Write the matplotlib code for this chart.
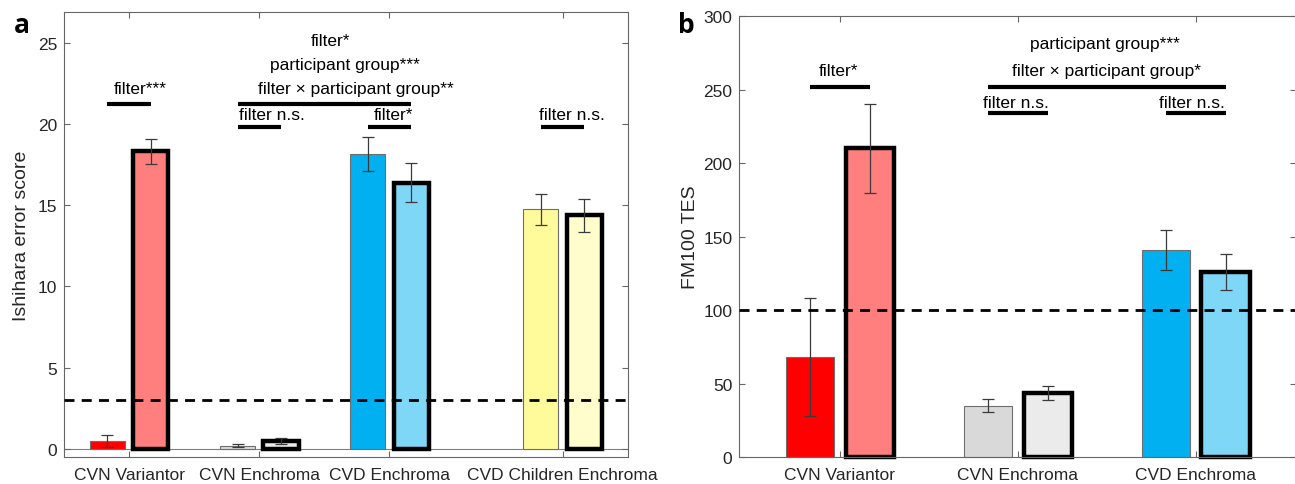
import matplotlib
matplotlib.use("Agg")
import matplotlib.pyplot as plt

plt.rcParams['font.family'] = ['Liberation Sans', 'DejaVu Sans']

# panel a: Ishihara error score
groups_a = ['CVN Variantor', 'CVN Enchroma', 'CVD Enchroma', 'CVD Children Enchroma']
ishihara_nofilter = [0.48, 0.2, 18.13, 14.73]
ishihara_filter = [18.32, 0.47, 16.36, 14.37]
ishihara_nofilter_err = [0.35, 0.1, 1.06, 0.97]
ishihara_filter_err = [0.77, 0.2, 1.2, 1.03]

# panel b: FM100 total error score
groups_b = ['CVN Variantor', 'CVN Enchroma', 'CVD Enchroma']
fm_nofilter = [68, 35, 141]
fm_filter = [210, 43.5, 126]
fm_nofilter_err = [40, 4.7, 13.7]
fm_filter_err = [30.2, 4.6, 12.2]

colors_nofilter = ['#FF0000', '#D9D9D9', '#00B0F0', '#FFFA9A']
colors_filter = ['#FF7F7F', '#EBEBEB', '#7FD7F7', '#FFFDCC']

# group centres (the 4th group in panel a sits a bit further out)
pos_a = [1, 2, 3, 4.33]
pos_b = [1, 2, 3]
off = 1 / 6
width = 0.27
FS = 12.5
TXT = '#262626'


def draw_bars(ax, pos, v0, e0, v1, e1):
    for i, x in enumerate(pos):
        ax.bar(x - off, v0[i], width, color=colors_nofilter[i], edgecolor='#6e6e6e',
               linewidth=0.8, zorder=2, clip_on=False)
        ax.bar(x + off, v1[i], width, color=colors_filter[i], edgecolor='black',
               linewidth=3.2, zorder=2, clip_on=False)
        ax.errorbar([x - off, x + off], [v0[i], v1[i]], yerr=[e0[i], e1[i]], fmt='none',
                    ecolor='#3a3a3a', elinewidth=0.9, capsize=4, capthick=0.9, zorder=3)


def style_axes(ax, pos, labels):
    ax.set_xticks(pos)
    ax.set_xticklabels(labels)
    ax.tick_params(axis='both', direction='in', length=4, width=0.8, color='#666666',
                   labelsize=FS, labelcolor=TXT, top=True, right=True)
    ax.tick_params(axis='x', pad=7)
    ax.tick_params(axis='y', pad=5)
    for s in ax.spines.values():
        s.set_color('#666666')
        s.set_linewidth(0.8)


def sig(ax, x0, x1, y):
    ax.plot([x0, x1], [y, y], color='black', linewidth=3, solid_capstyle='butt', zorder=4)


fig = plt.figure(figsize=(12.95, 4.85), dpi=100)

# ---- panel a
ax = fig.add_axes([0.0494, 0.0557, 0.4353, 0.9181])
ax.axhline(0, color='#808080', linewidth=0.8, zorder=1)
draw_bars(ax, pos_a, ishihara_nofilter, ishihara_nofilter_err, ishihara_filter, ishihara_filter_err)
ax.axhline(3, color='black', linewidth=2, dashes=(3.6, 2.6), zorder=4)
ax.set_xlim(0.5, 4.83)
ax.set_ylim(-0.5, 26.9)
ax.set_yticks([0, 5, 10, 15, 20, 25])
style_axes(ax, pos_a, groups_a)
ax.set_ylabel('Ishihara error score', fontsize=14, color=TXT)
ax.yaxis.set_label_coords(-0.061, 0.5)

sig(ax, 1 - off, 1 + off, 21.24)
sig(ax, 2 - off, 3 + off, 21.24)
sig(ax, 2 - off, 2 + off, 19.82)
sig(ax, 3 - off, 3 + off, 19.82)
sig(ax, 4.33 - off, 4.33 + off, 19.82)
for t, x, y in [('filter***', 1.087, 22.2),
                ('filter*', 2.549, 25.1),
                ('participant group***', 2.655, 23.64),
                ('filter \u00d7 participant group**', 2.742, 22.15),
                ('filter n.s.', 2.10, 20.57),
                ('filter*', 3.032, 20.57),
                ('filter n.s.', 4.402, 20.57)]:
    ax.text(x, y, t, ha='center', va='center', fontsize=FS, color='black')

fig.text(14 / 1295, 1 - 33.3 / 485, 'a', fontsize=19, fontweight='bold',
         family=['Open Sans', 'DejaVu Sans'], va='baseline')

# ---- panel b
bx = fig.add_axes([0.5709, 0.0557, 0.4302, 0.9087])
draw_bars(bx, pos_b, fm_nofilter, fm_nofilter_err, fm_filter, fm_filter_err)
bx.axhline(100, color='black', linewidth=2, dashes=(3.6, 2.6), zorder=4)
bx.set_xlim(0.435, 3.565)
bx.set_ylim(0, 300)
bx.set_yticks([0, 50, 100, 150, 200, 250, 300])
style_axes(bx, pos_b, groups_b)
bx.set_ylabel('FM100 TES', fontsize=14, color=TXT)
bx.yaxis.set_label_coords(-0.072, 0.5)

sig(bx, 1 - off, 1 + off, 252)
sig(bx, 2 - off, 3 + off, 252)
sig(bx, 2 - off, 2 + off, 234)
sig(bx, 3 - off, 3 + off, 234)
for t, x, y in [('filter*', 0.99, 263),
                ('participant group***', 2.488, 281.2),
                ('filter \u00d7 participant group*', 2.5, 263),
                ('filter n.s.', 1.99, 241.6),
                ('filter n.s.', 2.98, 241.6)]:
    bx.text(x, y, t, ha='center', va='center', fontsize=FS, color='black')

fig.text(678 / 1295, 1 - 33.3 / 485, 'b', fontsize=19, fontweight='bold',
         family=['Open Sans', 'DejaVu Sans'], va='baseline')

fig.savefig('out.png', dpi=100)
